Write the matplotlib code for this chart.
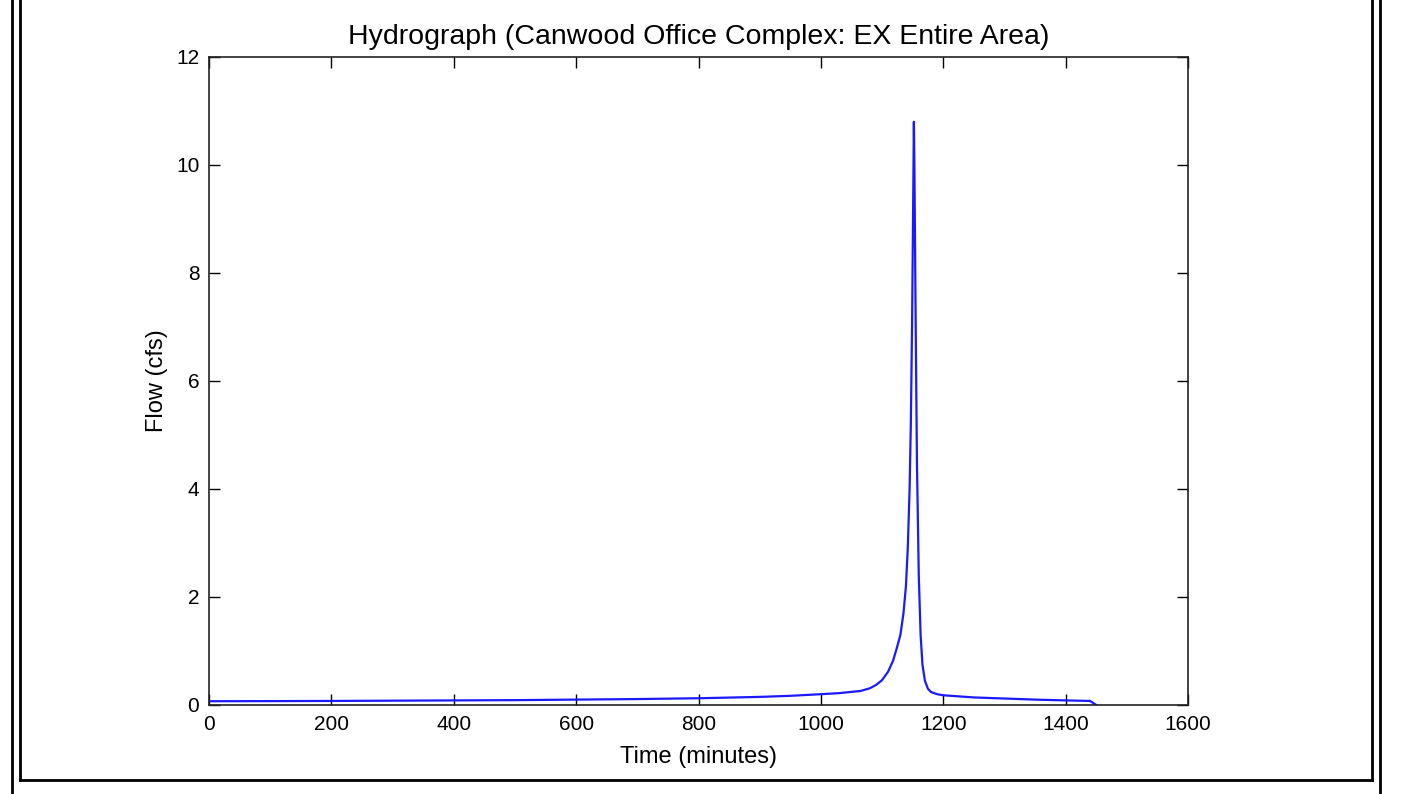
import matplotlib
matplotlib.use("Agg")
import matplotlib.pyplot as plt
from matplotlib.lines import Line2D

# hydrograph values
time_min = [0, 100, 200, 300, 400, 500, 600, 700, 800, 900, 950, 1000, 1030, 1065,
            1080, 1090, 1100, 1110, 1118, 1124, 1130, 1135, 1139, 1142, 1145, 1147,
            1149, 1151, 1152, 1153, 1155, 1157, 1160, 1163, 1166, 1170, 1175, 1180,
            1190, 1200, 1250, 1300, 1350, 1400, 1440, 1450]
flow_cfs = [0.07, 0.072, 0.075, 0.08, 0.085, 0.09, 0.1, 0.11, 0.125, 0.15, 0.17, 0.2, 0.22, 0.26,
            0.31, 0.37, 0.46, 0.62, 0.82, 1.05, 1.3, 1.7, 2.2, 2.9, 4.0, 5.2,
            7.0, 9.5, 10.8, 9.8, 7.0, 4.5, 2.4, 1.3, 0.75, 0.45, 0.3, 0.24,
            0.2, 0.18, 0.14, 0.12, 0.1, 0.085, 0.075, 0.0]

plt.rcParams['font.family'] = ['Liberation Sans', 'DejaVu Sans']

W, H = 1419, 794
fig = plt.figure(figsize=(W / 100, H / 100), dpi=100)
ax = fig.add_axes([209 / W, 1 - 705 / H, (1188 - 209) / W, (705 - 57) / H])

ax.plot(time_min, flow_cfs, color='#1a1aff', lw=1.6)
ax.set_xlim(0, 1600)
ax.set_ylim(0, 12)
ax.set_xticks(range(0, 1601, 200))
ax.set_yticks(range(0, 13, 2))
for s in ax.spines.values():
    s.set_linewidth(1.2)
    s.set_color('#222222')
ax.tick_params(direction='in', top=True, right=True, length=8, width=1, labelsize=15, pad=7)
ax.set_title("Hydrograph (Canwood Office Complex: EX Entire Area)", fontsize=20.5, pad=9)
ax.set_xlabel("Time (minutes)", fontsize=17, labelpad=9)
ax.set_ylabel("Flow (cfs)", fontsize=17, labelpad=6)

# page frame around the chart
def fline(x0, y0, x1, y1):
    fig.add_artist(Line2D([x0 / W, x1 / W], [1 - y0 / H, 1 - y1 / H], color='black', lw=2))

fline(12, 0, 12, H)
fline(20, 0, 20, 780)
fline(1372, 0, 1372, 780)
fline(1380, 0, 1380, H)
fline(20, 780, 1372, 780)

fig.savefig("out.png", dpi=100)
